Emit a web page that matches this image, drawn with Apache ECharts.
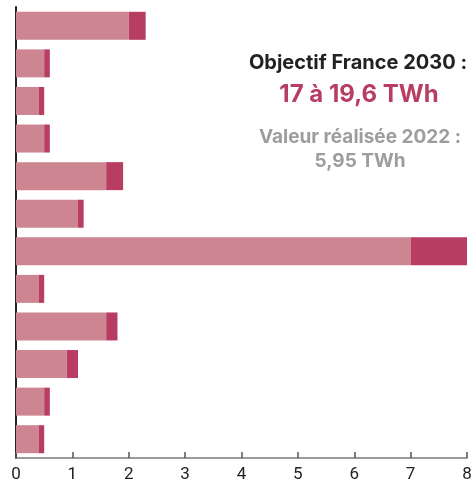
<!DOCTYPE html>
<html>
<head>
<meta charset="utf-8">
<script src="https://cdn.jsdelivr.net/npm/echarts@6/dist/echarts.min.js"></script>
<style>
  html, body { margin: 0; padding: 0; background: #fff; }
  #chart { width: 472px; height: 481px; }
</style>
</head>
<body>
<div id="chart"></div>
<script>
const categories = ['A', 'B', 'C', 'D', 'E', 'F', 'G', 'H', 'I', 'J', 'K', 'L'];
const realised = [2.0, 0.5, 0.4, 0.5, 1.6, 1.1, 7.0, 0.4, 1.6, 0.9, 0.5, 0.4];
const extra = [0.3, 0.1, 0.1, 0.1, 0.3, 0.1, 1.0, 0.1, 0.2, 0.2, 0.1, 0.1];
const xTicks = [0, 1, 2, 3, 4, 5, 6, 7, 8];

const lightPink = '#cd8691';
const darkPink = '#b83d63';
const grey = '#9d9d9f';

const chart = echarts.init(document.getElementById('chart'));

chart.setOption({
    animation: false,
    grid: { left: 16, right: 5, top: 7, bottom: 23, outerBoundsMode: 'none', containLabel: false },
    xAxis: {
        type: 'value',
        min: xTicks[0],
        max: xTicks[xTicks.length - 1],
        interval: 1,
        splitLine: { show: false },
        axisLine: { show: true, lineStyle: { color: '#7a7a7a', width: 1.5 } },
        axisTick: { show: true, inside: true, length: 6, lineStyle: { color: '#555', width: 1.5 } },
        axisLabel: { color: '#222', fontSize: 17, fontFamily: 'Roboto', margin: 8 }
    },
    yAxis: {
        type: 'category',
        inverse: true,
        data: categories,
        axisLine: { show: true, lineStyle: { color: '#222', width: 2 } },
        axisTick: { show: false },
        axisLabel: { show: false }
    },
    series: [
        {
            type: 'bar',
            stack: 'total',
            data: realised,
            barWidth: 28,
            itemStyle: { color: lightPink }
        },
        {
            type: 'bar',
            stack: 'total',
            data: extra,
            barWidth: 28,
            itemStyle: { color: darkPink }
        }
    ],
    graphic: [
        {
            type: 'text', x: 358, y: 63,
            style: { text: 'Objectif France 2030 :', fill: '#222', font: 'bold 20px Inter', align: 'center', verticalAlign: 'middle' }
        },
        {
            type: 'text', x: 359, y: 95,
            style: { text: '17 à 19,6 TWh', fill: darkPink, font: 'bold 24px Inter', align: 'center', verticalAlign: 'middle' }
        },
        {
            type: 'text', x: 360, y: 137,
            style: { text: 'Valeur réalisée 2022 :', fill: grey, font: 'bold 19px Inter', align: 'center', verticalAlign: 'middle' }
        },
        {
            type: 'text', x: 360, y: 161,
            style: { text: '5,95 TWh', fill: grey, font: 'bold 19px Inter', align: 'center', verticalAlign: 'middle' }
        }
    ]
});
</script>
</body>
</html>
